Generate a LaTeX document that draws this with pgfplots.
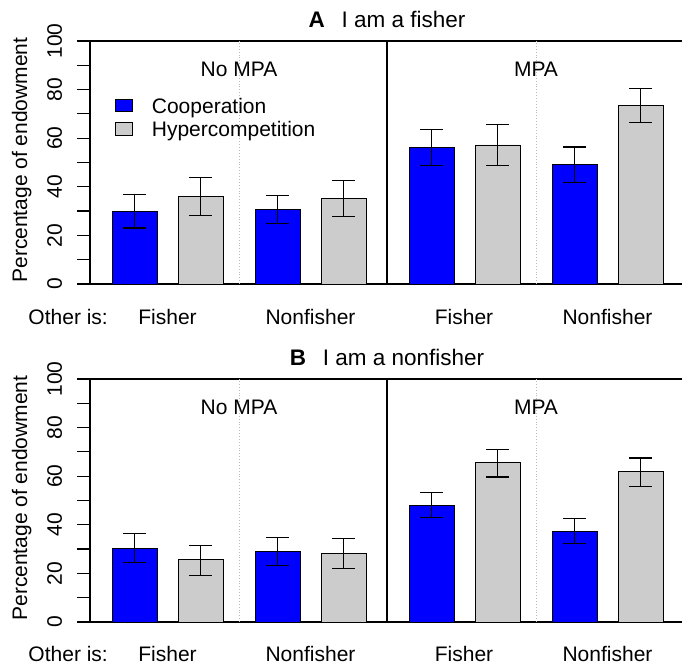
\documentclass[border=0pt]{standalone}
\usepackage{fontspec}
\setmainfont{Liberation Sans}
\usepackage{pgfplots}
\pgfplotsset{compat=1.18}
\definecolor{coop}{HTML}{0000FF}
\definecolor{hyper}{HTML}{CCCCCC}
\definecolor{sep}{HTML}{BBBBBB}
\newcommand{\chartfont}{\fontsize{21bp}{25bp}\selectfont}
\newcommand{\titlefont}{\fontsize{22.5bp}{27bp}\selectfont}

\pgfplotsset{
  panel/.style={
    scale only axis, width=594bp, height=243bp,
    xmin=90, xmax=684, ymin=0, ymax=100,
    axis line style={line width=1.2bp},
    xtick=\empty,
    ytick={0,20,...,100}, minor ytick={10,30,...,90},
    tick align=outside, major tick length=13bp, minor tick length=13bp,
    ytick pos=left, every tick/.style={black, line width=1.2bp},
    yticklabel style={rotate=90, anchor=base, inner sep=0pt, font=\chartfont},
    yticklabel shift=15bp,
    /pgf/number format/assume math mode=true,
    clip=false,
    ybar, bar width=45, bar shift=0pt,
    every axis plot/.append style={draw=black, line width=0.9bp},
    error bars/y dir=both, error bars/y explicit,
    error bars/error bar style={line width=1.2bp, black},
    error bars/error mark options={black, line width=1.2bp, mark size=11.3bp, rotate=90},
  }
}

\begin{document}
\begin{tikzpicture}[x=1bp, y=1bp, font=\chartfont]

% panel A
\begin{axis}[panel, at={(90bp,381bp)}, anchor=south west]
\draw[sep, dotted, line width=0.9bp] (axis cs:239,0) -- (axis cs:239,100);
\draw[sep, dotted, line width=0.9bp] (axis cs:536,0) -- (axis cs:536,100);
\draw[black, line width=1.2bp] (axis cs:387,0) -- (axis cs:387,100);
\addplot[fill=coop] coordinates {
  (134.5,29.8) += (0,6.9) -= (0,6.8)
  (277.5,30.7) += (0,5.8) -= (0,5.7)
  (431.5,56.3) += (0,7.4) -= (0,7.6)
  (574.5,49.1) += (0,7.3) -= (0,7.4)
};
\addplot[fill=hyper] coordinates {
  (200.5,36.0) += (0,7.9) -= (0,7.8)
  (343.5,35.2) += (0,7.4) -= (0,7.3)
  (497.5,57.2) += (0,8.5) -= (0,8.5)
  (640.5,73.3) += (0,7.0) -= (0,7.0)
};
\node[anchor=base, font=\titlefont] at ([yshift=13.5bp]axis cs:387,100) {\textbf{A}\hspace{0.75em}I am a fisher};
\node[anchor=base] at (axis cs:239,85.4) {No MPA};
\node[anchor=base] at (axis cs:536,85.4) {MPA};
\draw[fill=coop, line width=0.9bp] (axis cs:115,71.2) rectangle (axis cs:132,76.1);
\draw[fill=hyper, line width=0.9bp] (axis cs:115,61.3) rectangle (axis cs:132,66.5);
\node[anchor=base west, inner sep=0pt] at (axis cs:151.7,70.2) {Cooperation};
\node[anchor=base west, inner sep=0pt] at (axis cs:151.7,60.6) {Hypercompetition};
\node[rotate=90, anchor=base] at ([xshift=-63bp]axis cs:90,51) {Percentage of endowment};
\node[anchor=base west, inner sep=0pt] at ([xshift=-61.7bp, yshift=-40.5bp]axis cs:90,0) {Other is:};
\node[anchor=base] at ([yshift=-40.5bp]axis cs:167.5,0) {Fisher};
\node[anchor=base] at ([yshift=-40.5bp]axis cs:310.5,0) {Nonfisher};
\node[anchor=base] at ([yshift=-40.5bp]axis cs:464,0) {Fisher};
\node[anchor=base] at ([yshift=-40.5bp]axis cs:607.5,0) {Nonfisher};
\end{axis}

% panel B
\begin{axis}[panel, at={(90bp,43bp)}, anchor=south west]
\draw[sep, dotted, line width=0.9bp] (axis cs:239,0) -- (axis cs:239,100);
\draw[sep, dotted, line width=0.9bp] (axis cs:536,0) -- (axis cs:536,100);
\draw[black, line width=1.2bp] (axis cs:387,0) -- (axis cs:387,100);
\addplot[fill=coop] coordinates {
  (134.5,30.4) += (0,5.9) -= (0,5.8)
  (277.5,29.0) += (0,5.7) -= (0,5.9)
  (431.5,48.1) += (0,5.1) -= (0,5.2)
  (574.5,37.4) += (0,5.1) -= (0,5.1)
};
\addplot[fill=hyper] coordinates {
  (200.5,25.6) += (0,6.0) -= (0,6.5)
  (343.5,28.1) += (0,6.3) -= (0,6.2)
  (497.5,65.5) += (0,5.6) -= (0,5.8)
  (640.5,61.8) += (0,5.7) -= (0,6.0)
};
\node[anchor=base, font=\titlefont] at ([yshift=13.5bp]axis cs:387,100) {\textbf{B}\hspace{0.75em}I am a nonfisher};
\node[anchor=base] at (axis cs:239,85.4) {No MPA};
\node[anchor=base] at (axis cs:536,85.4) {MPA};
\node[rotate=90, anchor=base] at ([xshift=-63bp]axis cs:90,51) {Percentage of endowment};
\node[anchor=base west, inner sep=0pt] at ([xshift=-61.7bp, yshift=-39bp]axis cs:90,0) {Other is:};
\node[anchor=base] at ([yshift=-39bp]axis cs:167.5,0) {Fisher};
\node[anchor=base] at ([yshift=-39bp]axis cs:310.5,0) {Nonfisher};
\node[anchor=base] at ([yshift=-39bp]axis cs:464,0) {Fisher};
\node[anchor=base] at ([yshift=-39bp]axis cs:607.5,0) {Nonfisher};
\end{axis}

\pgfresetboundingbox
\path[use as bounding box] (0,0) rectangle (682,665);
\end{tikzpicture}
\end{document}
